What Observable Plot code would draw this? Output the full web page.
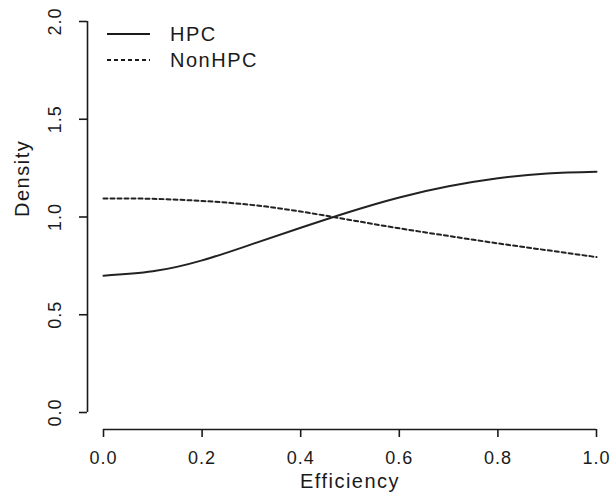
<!DOCTYPE html>
<html>
<head>
<meta charset="utf-8">
<script src="https://cdn.jsdelivr.net/npm/d3@7"></script>
<script src="https://cdn.jsdelivr.net/npm/@observablehq/plot@0.6"></script>
<style>
  html, body { margin: 0; padding: 0; background: #fff; }
</style>
</head>
<body>
<div id="chart"></div>
<script>
// ---- data ----
const efficiency    = [0.0, 0.1, 0.2, 0.3, 0.4, 0.5, 0.6, 0.7, 0.8, 0.9, 1.0];
const hpcDensity    = [0.70, 0.722, 0.778, 0.86, 0.945, 1.027, 1.10, 1.157, 1.198, 1.223, 1.232];
const nonHpcDensity = [1.095, 1.093, 1.082, 1.062, 1.028, 0.985, 0.942, 0.903, 0.865, 0.83, 0.795];
const seriesNames   = ["HPC", "NonHPC"];
const xTicks        = [0.0, 0.2, 0.4, 0.6, 0.8, 1.0];
const yTicks        = [0.0, 0.5, 1.0, 1.5, 2.0];
const xLabel        = "Efficiency";
const yLabel        = "Density";

const ink = "#1a1a1a";

const hpcRows    = efficiency.map((x, i) => ({x, y: hpcDensity[i]}));
const nonHpcRows = efficiency.map((x, i) => ({x, y: nonHpcDensity[i]}));
const fmt = d3.format(".1f");

function legend(index, scales, values, dims) {
  const g = d3.create("svg:g");
  const x0 = dims.marginLeft;
  seriesNames.forEach((name, i) => {
    const y = dims.marginTop + 13 + i * 26;
    g.append("line")
      .attr("x1", x0 + 4).attr("x2", x0 + 47)
      .attr("y1", y).attr("y2", y)
      .attr("stroke", ink).attr("stroke-width", 1.8)
      .attr("stroke-dasharray", i ? "4,3" : null);
    g.append("text")
      .attr("x", x0 + 67).attr("y", y).attr("dy", "0.35em")
      .attr("text-anchor", "start")
      .attr("font-size", 20)
      .attr("letter-spacing", "1.5px")
      .attr("fill", ink)
      .text(name);
  });
  return g.node();
}

const chart = Plot.plot({
  width: 614,
  height: 504,
  marginLeft: 103,
  marginRight: 18,
  marginTop: 21,
  marginBottom: 92,
  style: {fontFamily: "'Liberation Sans', Arial, sans-serif", fontSize: "18px", color: ink, background: "#fff", letterSpacing: "1px"},
  x: {domain: [0, 1]},
  y: {domain: [0, 2]},
  marks: [
    // y axis (R style, detached)
    Plot.ruleX([0], {y1: 0, y2: 2, dx: -16, stroke: ink, strokeWidth: 1.6}),
    Plot.axisY({ticks: yTicks, tickSize: 8, dx: -16, tickRotate: -90, tickPadding: 19,
                tickFormat: fmt, label: null, stroke: ink, strokeWidth: 1.6, fill: ink}),
    // x axis
    Plot.ruleY([0], {x1: 0, x2: 1, dy: 17, stroke: ink, strokeWidth: 1.6}),
    Plot.axisX({ticks: xTicks, tickSize: 8, dy: 17, tickPadding: 14,
                tickFormat: fmt, label: null, stroke: ink, strokeWidth: 1.6, fill: ink}),
    // axis titles
    Plot.text([xLabel], {frameAnchor: "bottom", dy: 75, text: d => d, fontSize: 20, fill: ink,
                         render: (i, s, v, d, c, next) => { const g = next(i, s, v, d, c); g.setAttribute("letter-spacing", "1.5px"); return g; }}),
    Plot.text([yLabel], {frameAnchor: "left", dx: -81, rotate: -90, text: d => d, fontSize: 20, fill: ink,
                         render: (i, s, v, d, c, next) => { const g = next(i, s, v, d, c); g.setAttribute("letter-spacing", "1.5px"); return g; }}),
    // density curves
    Plot.line(hpcRows, {x: "x", y: "y", curve: "natural", stroke: "#222", strokeWidth: 2}),
    Plot.line(nonHpcRows, {x: "x", y: "y", curve: "natural", stroke: "#222", strokeWidth: 2, strokeDasharray: "4,3"}),
    legend
  ]
});

document.getElementById("chart").append(chart);
</script>
</body>
</html>
